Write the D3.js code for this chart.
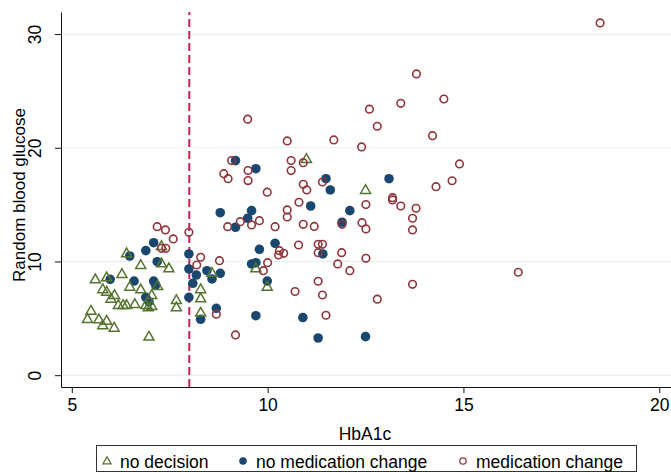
<!DOCTYPE html>
<html>
<head>
<meta charset="utf-8">
<script src="https://cdn.jsdelivr.net/npm/d3@7"></script>
<style>
  body { margin: 0; background: #fff; }
  svg { display: block; font-family: "Liberation Sans", Arial, sans-serif; }
</style>
</head>
<body>
<script>
const width = 671;
const height = 472;

// [HbA1c, random blood glucose]
const noDecision = [
  [6.40, 10.72], [7.29, 11.36], [6.76, 9.69], [7.29, 9.84], [7.48, 9.40], [5.60, 8.43],
  [5.89, 8.61], [6.28, 8.90], [5.79, 7.56], [5.89, 7.34], [6.09, 7.05], [6.00, 6.73],
  [6.48, 7.78], [6.76, 7.55], [7.19, 7.85], [7.04, 7.05], [6.19, 6.17], [6.31, 6.17],
  [6.40, 6.17], [6.61, 6.26], [6.95, 5.97], [6.89, 6.17], [7.04, 6.09], [7.67, 6.61],
  [7.67, 5.97], [8.29, 7.56], [8.29, 6.76], [8.29, 5.50], [5.49, 5.67], [5.40, 4.94],
  [5.69, 4.92], [5.89, 4.79], [5.79, 4.39], [6.08, 4.18], [6.97, 3.39], [10.99, 19.02],
  [8.58, 9.01], [9.70, 9.40], [9.99, 7.78], [12.50, 16.29]
];

const noMedicationChange = [
  [7.09, 11.65], [6.89, 10.95], [6.48, 10.48], [7.99, 10.66], [7.18, 9.98], [7.99, 9.34],
  [8.18, 8.81], [8.09, 8.08], [5.98, 8.43], [6.59, 8.28], [7.09, 8.28], [7.14, 7.93],
  [6.89, 6.85], [6.97, 6.46], [7.99, 6.85], [8.29, 4.92], [8.45, 9.19], [8.58, 8.46],
  [8.79, 8.96], [9.79, 11.07], [10.19, 11.60], [9.59, 9.78], [9.70, 9.89], [9.99, 8.28],
  [8.69, 5.88], [9.70, 5.23], [10.90, 5.07], [11.29, 3.27], [12.50, 3.39], [11.41, 10.66],
  [11.10, 14.88], [12.10, 14.47], [11.90, 13.45], [9.18, 18.87], [9.70, 18.16], [11.49, 17.28],
  [11.60, 16.29], [8.79, 14.29], [9.59, 14.47], [9.49, 13.80], [9.18, 13.01], [13.10, 17.28]
];

const medicationChange = [
  [7.18, 13.06], [7.39, 12.77], [7.59, 11.98], [7.99, 12.57], [7.29, 11.16], [7.40, 11.16],
  [8.29, 10.37], [8.19, 9.69], [9.49, 22.51], [10.50, 20.60], [11.69, 20.69], [9.08, 18.87],
  [10.60, 18.87], [10.91, 18.69], [8.88, 17.72], [8.99, 17.28], [9.50, 17.99], [9.50, 17.11],
  [10.60, 17.99], [10.91, 16.79], [11.00, 16.29], [11.40, 16.99], [9.99, 16.09], [10.80, 15.21],
  [10.50, 14.53], [10.50, 13.91], [9.30, 13.50], [9.79, 13.59], [9.59, 13.21], [8.98, 13.06],
  [10.19, 13.06], [10.91, 13.27], [11.19, 13.08], [11.90, 13.27], [10.79, 11.45], [10.30, 10.95],
  [10.41, 10.72], [10.28, 10.57], [11.29, 11.51], [11.40, 11.51], [11.29, 10.77], [8.77, 10.07],
  [10.00, 9.89], [9.89, 9.19], [11.29, 8.26], [10.70, 7.36], [11.40, 7.05], [8.69, 5.36],
  [9.18, 3.54], [12.51, 15.00], [13.19, 15.41], [13.40, 14.88], [13.79, 14.68], [13.70, 13.80],
  [13.70, 12.77], [12.41, 13.41], [12.51, 12.86], [11.89, 10.77], [12.51, 10.28], [11.79, 9.78],
  [12.10, 9.19], [12.80, 6.68], [13.70, 7.99], [11.49, 5.27], [13.80, 26.49], [13.40, 23.91],
  [14.50, 24.29], [12.60, 23.39], [12.80, 21.89], [14.21, 21.06], [12.40, 20.07], [14.90, 18.58],
  [14.71, 17.10], [14.30, 16.58], [13.19, 15.61], [18.49, 30.98], [16.40, 9.05]
];

const xTicks = [5, 10, 15, 20];
const yTicks = [0, 10, 20, 30];
const gridValues = [0, 10, 20, 30];
const cutoff = 8;
const legendLabels = ['no decision', 'no medication change', 'medication change'];

const colors = { green: '#55752f', navy: '#1a476f', maroon: '#90353b', cutoff: '#c4234f' };

function main() {
  const svg = d3.select('body').append('svg').attr('width', width).attr('height', height);
  svg.append('rect').attr('width', width).attr('height', height).attr('fill', '#fff');

  const x = d3.scaleLinear().domain([4.724, 20.30]).range([61, 671]);
  const y = d3.scaleLinear().domain([-1.04, 31.94]).range([387, 12]);

  drawGrid(svg, x, y);
  drawAxes(svg, x, y);

  svg.append('line')
    .attr('x1', x(cutoff)).attr('x2', x(cutoff))
    .attr('y1', y.range()[0]).attr('y2', y.range()[1])
    .attr('stroke', colors.cutoff)
    .attr('stroke-width', 2)
    .attr('stroke-dasharray', '8,4');

  drawDots(svg, noMedicationChange, x, y);
  drawTriangles(svg, noDecision, x, y);
  drawCircles(svg, medicationChange, x, y);

  drawLegend(svg);
}

function drawGrid(svg, x, y) {
  svg.append('g')
    .selectAll('line')
    .data(gridValues)
    .enter()
    .append('line')
    .attr('x1', x.range()[0] + 1)
    .attr('x2', x.range()[1])
    .attr('y1', d => y(d))
    .attr('y2', d => y(d))
    .attr('stroke', '#e8f0f2')
    .attr('stroke-width', 1.2);
}

function drawAxes(svg, x, y) {
  const xAxis = svg.append('g')
    .attr('transform', `translate(0,${y.range()[0]})`)
    .call(d3.axisBottom(x).tickValues(xTicks).tickSize(6).tickSizeOuter(0).tickFormat(d3.format('d')));

  xAxis.selectAll('text').attr('font-size', 17.5).attr('fill', '#000').attr('dy', '0.85em');

  const yAxis = svg.append('g')
    .attr('transform', `translate(${x.range()[0]},0)`)
    .call(d3.axisLeft(y).tickValues(yTicks).tickSize(6).tickSizeOuter(0).tickFormat(d3.format('d')));

  yAxis.selectAll('text')
    .attr('font-size', 17.5)
    .attr('fill', '#000')
    .attr('x', null)
    .attr('dy', null)
    .attr('text-anchor', 'middle')
    .attr('transform', 'translate(-20,0) rotate(-90)');

  svg.selectAll('.domain, .tick line').attr('stroke', '#111').attr('stroke-width', 1);

  svg.append('text')
    .attr('x', 365)
    .attr('y', 440)
    .attr('text-anchor', 'middle')
    .attr('font-size', 17.5)
    .text('HbA1c');

  svg.append('text')
    .attr('transform', 'translate(25,195) rotate(-90)')
    .attr('text-anchor', 'middle')
    .attr('font-size', 17)
    .text('Random blood glucose');
}

function trianglePath(cx, cy, s) {
  const h = s * 0.87;
  return `M${cx},${cy - h * 0.6}L${cx + s / 2},${cy + h * 0.4}L${cx - s / 2},${cy + h * 0.4}Z`;
}

function drawTriangles(svg, data, x, y) {
  svg.append('g')
    .selectAll('path')
    .data(data)
    .enter()
    .append('path')
    .attr('d', d => trianglePath(x(d[0]), y(d[1]), 10))
    .attr('fill', 'none')
    .attr('stroke', colors.green)
    .attr('stroke-width', 1.5);
}

function drawDots(svg, data, x, y) {
  svg.append('g')
    .selectAll('circle')
    .data(data)
    .enter()
    .append('circle')
    .attr('cx', d => x(d[0]))
    .attr('cy', d => y(d[1]))
    .attr('r', 4.8)
    .attr('fill', colors.navy);
}

function drawCircles(svg, data, x, y) {
  svg.append('g')
    .selectAll('circle')
    .data(data)
    .enter()
    .append('circle')
    .attr('cx', d => x(d[0]))
    .attr('cy', d => y(d[1]))
    .attr('r', 3.8)
    .attr('fill', 'none')
    .attr('stroke', colors.maroon)
    .attr('stroke-width', 1.6);
}

function drawLegend(svg) {
  const g = svg.append('g');
  g.append('rect')
    .attr('x', 96.5).attr('y', 445.5)
    .attr('width', 540).attr('height', 26)
    .attr('fill', '#fff')
    .attr('stroke', '#333')
    .attr('stroke-width', 1);

  const markerX = [107, 243, 463];
  const cy = 461;

  g.append('path')
    .attr('d', trianglePath(markerX[0], cy, 8))
    .attr('fill', 'none').attr('stroke', colors.green).attr('stroke-width', 1.3);
  g.append('circle')
    .attr('cx', markerX[1]).attr('cy', cy).attr('r', 3.8).attr('fill', colors.navy);
  g.append('circle')
    .attr('cx', markerX[2]).attr('cy', cy).attr('r', 3.2)
    .attr('fill', 'none').attr('stroke', colors.maroon).attr('stroke-width', 1.3);

  g.selectAll('text.legend-label')
    .data(legendLabels)
    .enter()
    .append('text')
    .attr('class', 'legend-label')
    .attr('x', (_, i) => markerX[i] + 13)
    .attr('y', cy + 6.5)
    .attr('font-size', 17.5)
    .text(d => d);
}

main();
</script>
</body>
</html>
